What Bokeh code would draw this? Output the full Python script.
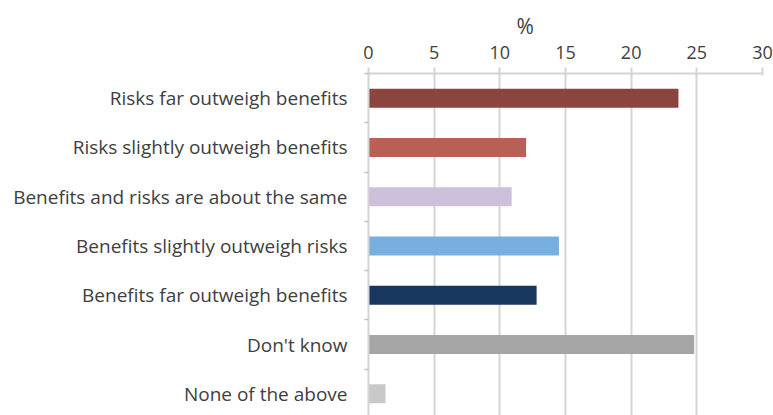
from bokeh.plotting import figure
from bokeh.models import Range1d, FixedTicker, Title
from bokeh.embed import file_html
from bokeh.resources import INLINE

categories = [
    "Risks far outweigh benefits",
    "Risks slightly outweigh benefits",
    "Benefits and risks are about the same",
    "Benefits slightly outweigh risks",
    "Benefits far outweigh benefits",
    "Don't know",
    "None of the above",
]
values = [23.6, 12.0, 10.9, 14.5, 12.8, 24.8, 1.3]
colors = ["#8B453E", "#B86055", "#CCC0DA", "#77B0E0", "#17375E", "#A5A5A5", "#C8C8C8"]
x_ticks = [0, 5, 10, 15, 20, 25, 30]

FONT = "Open Sans"
TXT = "#404040"
GRID = "#d4d4d4"

rows = list(range(len(categories)))

p = figure(width=773, height=415, output_backend="svg", toolbar_location=None,
           x_range=Range1d(0, 30), y_range=Range1d(6.44, -0.5),
           x_axis_location="above", min_border_left=368, min_border_right=11,
           min_border_top=73, min_border_bottom=0)
p.outline_line_color = None
p.background_fill_color = "white"

p.hbar(y=rows, right=values, left=0, height=0.385, fill_color=colors, line_color=None)

# top axis
xa = p.xaxis[0]
xa.ticker = FixedTicker(ticks=x_ticks)
xa.axis_line_color = GRID
xa.axis_line_width = 2
xa.major_tick_line_color = GRID
xa.major_tick_line_width = 2
xa.major_tick_out = 6
xa.major_tick_in = 2
xa.minor_tick_line_color = None
xa.major_label_text_font = FONT
xa.major_label_text_font_size = "18px"
xa.major_label_text_color = TXT
xa.major_label_standoff = 9

# left axis
ya = p.yaxis[0]
ya.ticker = FixedTicker(ticks=rows, minor_ticks=[r - 0.5 for r in rows] + [6.5])
ya.major_label_overrides = {i: c for i, c in enumerate(categories)}
ya.major_tick_line_color = None
ya.major_tick_in = 0
ya.major_tick_out = 0
ya.minor_tick_line_color = "#bfbfbf"
ya.minor_tick_line_width = 1.5
ya.minor_tick_out = 4
ya.minor_tick_in = 0
ya.axis_line_color = GRID
ya.axis_line_width = 2
ya.major_label_text_font = FONT
ya.major_label_text_font_size = "19px"
ya.major_label_text_color = TXT
ya.major_label_standoff = 17

p.xgrid.ticker = FixedTicker(ticks=x_ticks)
p.xgrid.grid_line_color = GRID
p.xgrid.grid_line_width = 2
p.ygrid.grid_line_color = None

p.add_layout(Title(text="%", align="left", offset=148, text_font=FONT,
                   text_font_size="21px", text_color=TXT, text_font_style="normal",
                   standoff=5), "above")

open("out.html", "w").write(file_html(p, INLINE))
